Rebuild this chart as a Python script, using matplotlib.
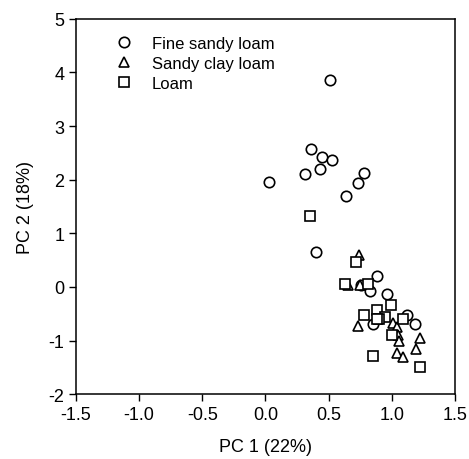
import matplotlib
matplotlib.use("Agg")
import matplotlib.pyplot as plt

plt.rcParams['font.family'] = ['Liberation Sans', 'DejaVu Sans']
plt.rcParams['axes.unicode_minus'] = False

# PCA scores
fsl_x = [0.51, 0.36, 0.45, 0.53, 0.31, 0.43, 0.03, 0.78, 0.73, 0.64, 0.40,
         0.88, 0.76, 0.83, 0.96, 0.85, 1.12, 1.18]
fsl_y = [3.86, 2.57, 2.43, 2.37, 2.11, 2.19, 1.95, 2.12, 1.94, 1.70, 0.65,
         0.20, 0.04, -0.07, -0.14, -0.70, -0.53, -0.70]

scl_x = [0.74, 0.65, 0.75, 0.73, 1.01, 1.04, 1.05, 1.06, 1.22, 1.19, 1.04, 1.09]
scl_y = [0.59, 0.04, 0.03, -0.73, -0.68, -0.75, -0.89, -1.01, -0.96, -1.15, -1.24, -1.30]

loam_x = [0.35, 0.72, 0.63, 0.81, 0.78, 0.88, 0.99, 0.95, 0.90, 1.09, 1.00, 0.85, 1.22, 0.88]
loam_y = [1.33, 0.47, 0.05, 0.05, -0.52, -0.43, -0.34, -0.57, -0.59, -0.59, -0.90, -1.29, -1.49, -0.59]

fig = plt.figure(figsize=(4.69, 4.6), dpi=100)
ax = fig.add_axes([0.162, 0.141, 0.808, 0.816])

style = dict(linestyle='none', markerfacecolor='white', markeredgecolor='black',
             markeredgewidth=1.2, markersize=7.5)
ax.plot(fsl_x, fsl_y, marker='o', label='Fine sandy loam', **style)
ax.plot(scl_x, scl_y, marker='^', label='Sandy clay loam', **style)
ax.plot(loam_x, loam_y, marker='s', label='Loam', **dict(style, markersize=7))

ax.set_xlim(-1.5, 1.5)
ax.set_ylim(-2, 5)
ax.set_xticks([-1.5, -1.0, -0.5, 0.0, 0.5, 1.0, 1.5])
ax.set_xticklabels(['-1.5', '-1.0', '-0.5', '0.0', '0.5', '1.0', '1.5'])
ax.set_yticks(range(-2, 6))
ax.tick_params(direction='out', length=5, width=1, labelsize=13, top=False, right=False)
for s in ax.spines.values():
    s.set_linewidth(1.1)
ax.set_xlabel('PC 1 (22%)', fontsize=13, labelpad=11)
ax.set_ylabel('PC 2 (18%)', fontsize=13, labelpad=10)

ax.legend(loc='upper left', frameon=False, fontsize=12, handletextpad=0.9,
          handlelength=1.6, borderaxespad=0.3, labelspacing=0.3,
          bbox_to_anchor=(0.06, 0.985))

fig.savefig('out.png', dpi=100)
